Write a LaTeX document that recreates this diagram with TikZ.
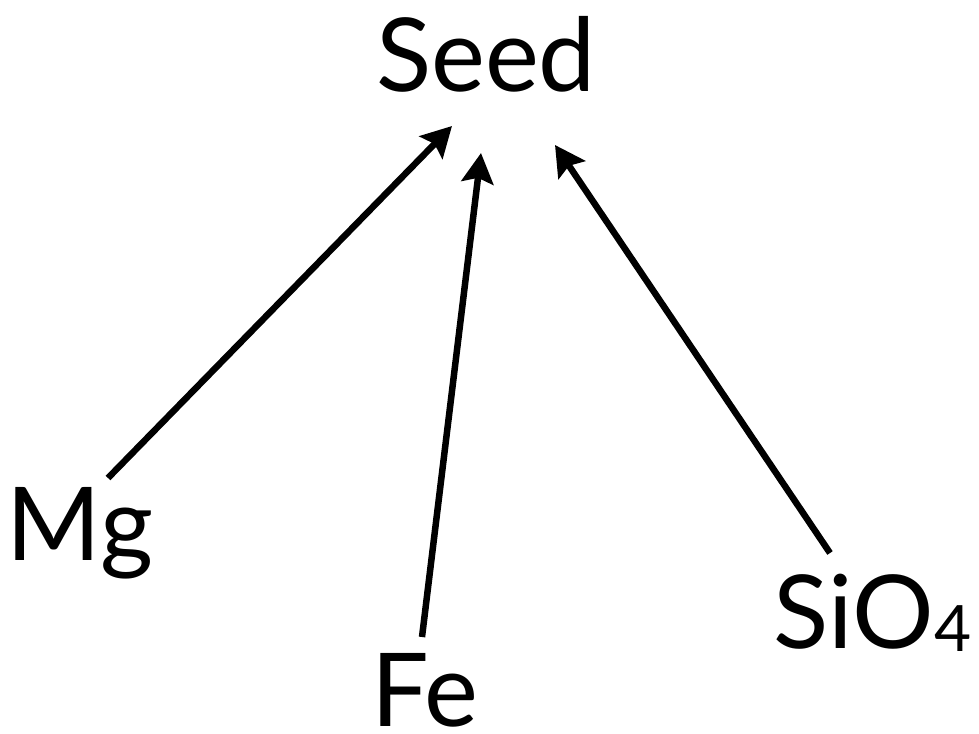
\documentclass[tikz,border=0pt]{standalone}
\usepackage{fontspec}
\setmainfont{Lato}
\usetikzlibrary{arrows.meta}
\tikzset{
  lbl/.style={inner sep=0pt, anchor=base, font=\fontsize{102}{106}\selectfont},
  arr/.style={line width=6.5pt, -{Stealth[length=30pt, width=32pt, inset=5pt]}}
}
\begin{document}
\begin{tikzpicture}[x=1pt, y=-1pt]
\useasboundingbox (0,0) rectangle (979,733);
\node[lbl] (seed) at (486,92) {Seed};
\node[lbl] (mg) at (80,560) {Mg};
\node[lbl] (fe) at (425,726) {Fe};
\node[lbl] (sio) at (873,648) {SiO\kern1pt\raisebox{-3pt}{\fontsize{64}{66}\selectfont 4}};
\coordinate (mgS) at (108,478);
\coordinate (mgT) at (452,126);
\coordinate (feS) at (422,637);
\coordinate (feT) at (481,153);
\coordinate (siS) at (830,553);
\coordinate (siT) at (555,145);
\draw[arr] (mgS) -- (mgT);
\draw[arr] (feS) -- (feT);
\draw[arr] (siS) -- (siT);
\end{tikzpicture}
\end{document}
